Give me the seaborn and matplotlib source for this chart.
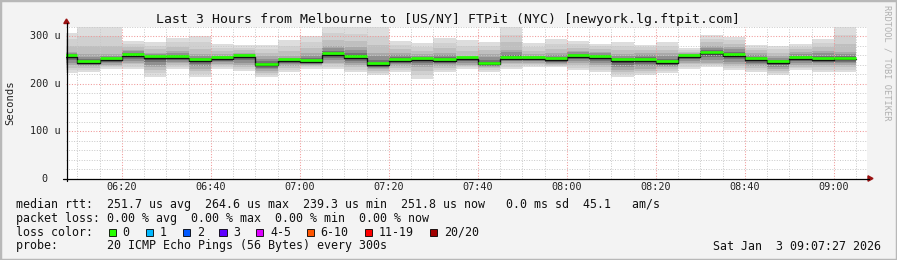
import numpy as np
import pandas as pd
import matplotlib
matplotlib.use("Agg")
import matplotlib.pyplot as plt
import seaborn as sns
from matplotlib.patches import Rectangle, Polygon
from matplotlib.lines import Line2D

# ---------------- data ----------------
title = "Last 3 Hours from Melbourne to [US/NY] FTPit (NYC) [newyork.lg.ftpit.com]"
window_start_min = 7 + 27 / 60      # 06:07:27, minutes after 06:00
window_len_min = 180
step_min = 5                         # 300 s probe step
first_period_start_min = 5           # first period 06:05-06:10

median_us = [257.5, 245.0, 250.5, 259.6, 254.8, 254.8, 248.4, 253.3, 257.5, 239.3,
             248.4, 246.3, 261.7, 255.4, 240.0, 248.4, 250.5, 248.4, 253.3, 242.0,
             253.3, 253.3, 250.5, 257.5, 255.4, 248.4, 248.4, 244.2, 257.5, 264.6,
             259.6, 250.5, 244.9, 253.3, 250.5, 251.8]
min_us = [222, 224, 232, 232, 215, 232, 215, 232, 227, 215,
          225, 232, 232, 225, 218, 225, 211, 225, 232, 225,
          232, 236, 236, 229, 225, 215, 218, 222, 232, 236,
          229, 225, 218, 229, 225, 225]
max_us = [307, 320, 320, 291, 289, 297, 301, 284, 282, 281,
          292, 301, 320, 320, 320, 290, 287, 296, 292, 289,
          320, 287, 294, 290, 285, 289, 283, 288, 275, 303,
          299, 282, 280, 284, 294, 320]
q1_us = [240, 238, 240, 245, 235, 243, 232, 242, 240, 228,
         238, 240, 245, 240, 232, 238, 235, 238, 240, 236,
         245, 245, 242, 245, 240, 230, 232, 235, 245, 245,
         242, 238, 232, 240, 240, 240]
q3_us = [268, 262, 262, 272, 265, 270, 262, 262, 266, 258,
         258, 265, 280, 278, 265, 265, 262, 265, 258, 262,
         272, 262, 265, 270, 268, 262, 265, 265, 265, 280,
         278, 265, 258, 268, 270, 268]

tick_minutes = [20, 40, 60, 80, 100, 120, 140, 160, 180]
tick_labels = ["06:20", "06:40", "07:00", "07:20", "07:40",
               "08:00", "08:20", "08:40", "09:00"]
ytick_values = [0, 100, 200, 300]
ytick_labels = ["0", "100 u", "200 u", "300 u"]
y_max = 320

legend_line1 = ("median rtt:  251.7 us avg  264.6 us max  239.3 us min  "
                "251.8 us now   0.0 ms sd  45.1   am/s")
legend_line2 = "packet loss: 0.00 % avg  0.00 % max  0.00 % min  0.00 % now"
legend_line3 = "loss color:"
legend_line4 = "probe:       20 ICMP Echo Pings (56 Bytes) every 300s"
loss_labels = ["0", "1", "2", "3", "4-5", "6-10", "11-19", "20/20"]
loss_colors = ["#26ff00", "#00b8ff", "#0059ff", "#5e00ff",
               "#dd00ff", "#ff5500", "#ff0000", "#a10000"]
timestamp = "Sat Jan  3 09:07:27 2026"
side_text = "RRDTOOL / TOBI OETIKER"

# ---------------- figure ----------------
W, H = 897, 260
sns.set_style("white")
plt.rcParams["font.family"] = ["DejaVu Sans Mono", "DejaVu Sans"]
fig = plt.figure(figsize=(W / 100, H / 100), dpi=100)
fig.patch.set_facecolor("#f3f3f3")

def fx(px):
    return px / W

def fy(py):
    return 1 - py / H

ax_left, ax_right, ax_top, ax_bot = 66.0, 867.0, 27.0, 178.5
ax = fig.add_axes([fx(ax_left), fy(ax_bot), fx(ax_right - ax_left), (ax_bot - ax_top) / H])
ax.set_facecolor("white")

n = len(median_us)
df = pd.DataFrame({
    "start": first_period_start_min + step_min * np.arange(n),
    "median": median_us, "lo": min_us, "hi": max_us, "q1": q1_us, "q3": q3_us,
})
med = df["median"].to_numpy(float)
lo = df["lo"].to_numpy(float)
hi = df["hi"].to_numpy(float)
q1 = df["q1"].to_numpy(float)
q3 = df["q3"].to_numpy(float)

def bounds(f):
    # f=0 -> min/max, f=0.5 -> quartiles, f=1 -> median
    if f <= 0.5:
        g = f / 0.5
        return lo + (q1 - lo) * g, hi + (q3 - hi) * g
    g = (f - 0.5) / 0.5
    return q1 + (med - q1) * g, q3 + (med - q3) * g

smoke = [(0.0, "#dddddd"), (0.17, "#d0d0d0"), (0.34, "#bfbfbf"), (0.5, "#a9a9a9"),
         (0.64, "#909090"), (0.78, "#727272"), (0.9, "#505050")]
for f, col in smoke:
    b, t = bounds(f)
    ax.bar(df["start"], t - b, bottom=b, width=step_min, align="edge",
           color=col, linewidth=0, antialiased=False, zorder=1)

# black step line of the median
step_df = pd.DataFrame({"t": list(df["start"]) + [df["start"].iloc[-1] + step_min],
                        "m": list(med) + [med[-1]]})
sns.lineplot(data=step_df, x="t", y="m", drawstyle="steps-post", color="#111111",
             lw=1.0, ax=ax, estimator=None, zorder=3)
# green (0 % loss) median bars sitting on the black line
ax.hlines(med + 3.0, df["start"], df["start"] + step_min, color=loss_colors[0],
          lw=1.9, zorder=4)

ax.set_xlim(window_start_min, window_start_min + window_len_min)
ax.set_ylim(0, y_max)
ax.set_xlabel("")
ax.set_ylabel("")

ax.set_xticks(tick_minutes)
ax.set_xticks(np.arange(10, 186, 5), minor=True)
ax.set_yticks(ytick_values)
ax.set_yticks(np.arange(0, y_max + 1, 20), minor=True)
ax.set_xticklabels([])
ax.set_yticklabels([])
ax.tick_params(which="major", direction="out", length=3, width=0.7, color="black")
ax.tick_params(which="minor", direction="out", length=2, width=0.7, color="black")
ax.set_axisbelow(False)
ax.grid(which="minor", color="#c8c8c8", linestyle=(0, (1, 1.6)), linewidth=0.7)
ax.grid(which="major", color="#f09a9a", linestyle=(0, (1, 1.6)), linewidth=0.75)
for s in ax.spines.values():
    s.set_visible(False)

# axes lines with arrows
axcol = "black"
fig.add_artist(Line2D([fx(66.5), fx(66.5)], [fy(181), fy(23)], color=axcol, lw=0.9))
fig.add_artist(Line2D([fx(63), fx(869)], [fy(178.5), fy(178.5)], color=axcol, lw=0.9))
fig.add_artist(Polygon([[fx(63.8), fy(23.5)], [fx(69.2), fy(23.5)], [fx(66.5), fy(19)]],
                       closed=True, color="#991111", transform=fig.transFigure))
fig.add_artist(Polygon([[fx(868), fy(175.8)], [fx(868), fy(181.2)], [fx(873), fy(178.5)]],
                       closed=True, color="#991111", transform=fig.transFigure))

# tick labels
for m, lab in zip(tick_minutes, tick_labels):
    xp = ax_left + (m - window_start_min) / window_len_min * (ax_right - ax_left)
    fig.text(fx(xp), fy(187.5), lab, ha="center", va="center", fontsize=7.3, color="#222222")
for v, lab in zip(ytick_values, ytick_labels):
    yp = ax_bot - v / y_max * (ax_bot - ax_top)
    xr = 60.5 if lab != "0" else 47.5
    fig.text(fx(xr), fy(yp), lab, ha="right", va="center", fontsize=7.3, color="#222222")

fig.text(fx(10), fy(103), "Seconds", rotation=90, ha="center", va="center",
         fontsize=7.6, color="#222222")
fig.text(fx(448), fy(19), title, ha="center", va="center", fontsize=9.5, color="#111111")
fig.text(fx(887), fy(5), side_text, rotation=270, ha="center", va="top",
         fontsize=6.2, color="#b0b0b0")

# legend block
lf = 8.4
fig.text(fx(16), fy(204.3), legend_line1, ha="left", va="center", fontsize=lf, color="#111111")
fig.text(fx(16), fy(218.3), legend_line2, ha="left", va="center", fontsize=lf, color="#111111")
fig.text(fx(16), fy(232.3), legend_line3, ha="left", va="center", fontsize=lf, color="#111111")
fig.text(fx(16), fy(246), legend_line4, ha="left", va="center", fontsize=lf, color="#111111")
box_x = [108.7, 145.7, 182.7, 219.3, 256.0, 306.7, 365.0, 430.0]
for bx, lab, col in zip(box_x, loss_labels, loss_colors):
    fig.add_artist(Rectangle((fx(bx), fy(236)), fx(7.3), 7.3 / H, transform=fig.transFigure,
                             facecolor=col, edgecolor="black", lw=0.6))
    fig.text(fx(bx + 14), fy(232.3), lab, ha="left", va="center", fontsize=lf, color="#111111")
fig.text(fx(880.5), fy(246), timestamp, ha="right", va="center", fontsize=lf, color="#111111")

# outer frame
fig.add_artist(Rectangle((0, 0), 1, 1, transform=fig.transFigure, fill=False,
                         edgecolor="#b8b8b8", lw=2.5))

fig.savefig("out.png", dpi=100, facecolor=fig.get_facecolor())
